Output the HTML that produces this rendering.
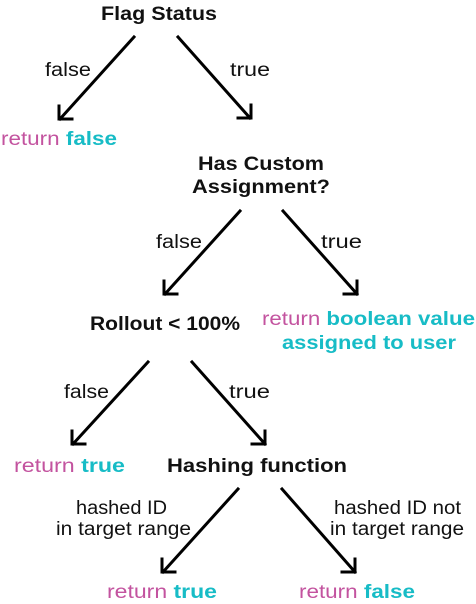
<!DOCTYPE html>
<html><head><style>
html,body{margin:0;padding:0;background:#fff;}
svg{display:block;}
text{font-family:"Liberation Sans",sans-serif;font-size:19px;fill:#111;}
.b{font-weight:bold;}
.m{fill:#c3539f;}
.t{fill:#17bcc6;font-weight:bold;}
</style></head><body>
<svg width="476" height="604" viewBox="0 0 476 604" xmlns="http://www.w3.org/2000/svg">
<g stroke="#000" stroke-width="3" fill="none" stroke-linecap="square">
<path d="M134 37 L60 119 M59 106 L59 119 L72 119"/>
<path d="M178 37 L250 118 M251 105 L251 118 L238 118"/>
<path d="M240 211 L165 294 M164 281 L164 294 L177 294"/>
<path d="M283 211 L357 294 M357 281 L357 294 L344 294"/>
<path d="M148 362 L73 444 M72 431 L72 444 L85 444"/>
<path d="M192 362 L265 444 M265 431 L265 444 L252 444"/>
<path d="M238 489 L163 572 M162 559 L162 572 L175 572"/>
<path d="M282 489 L355 572 M355 559 L355 572 L342 572"/>
</g>
<text class="b" x="101" y="20" textLength="116" lengthAdjust="spacingAndGlyphs">Flag Status</text>
<text x="45" y="76" textLength="46" lengthAdjust="spacingAndGlyphs">false</text>
<text x="230" y="76" textLength="40" lengthAdjust="spacingAndGlyphs">true</text>
<text x="1" y="145" textLength="116" lengthAdjust="spacingAndGlyphs"><tspan class="m">return </tspan><tspan class="t">false</tspan></text>
<text class="b" x="198" y="170" textLength="126" lengthAdjust="spacingAndGlyphs">Has Custom</text>
<text class="b" x="192" y="193" textLength="138" lengthAdjust="spacingAndGlyphs">Assignment?</text>
<text x="156" y="248" textLength="46" lengthAdjust="spacingAndGlyphs">false</text>
<text x="321" y="248" textLength="41" lengthAdjust="spacingAndGlyphs">true</text>
<text class="b" x="90" y="330" textLength="150" lengthAdjust="spacingAndGlyphs">Rollout &lt; 100%</text>
<text x="262" y="325" textLength="213" lengthAdjust="spacingAndGlyphs"><tspan class="m">return </tspan><tspan class="t">boolean value</tspan></text>
<text class="t" x="282" y="349" textLength="174" lengthAdjust="spacingAndGlyphs">assigned to user</text>
<text x="64" y="398" textLength="45" lengthAdjust="spacingAndGlyphs">false</text>
<text x="229" y="398" textLength="41" lengthAdjust="spacingAndGlyphs">true</text>
<text x="14" y="472" textLength="111" lengthAdjust="spacingAndGlyphs"><tspan class="m">return </tspan><tspan class="t">true</tspan></text>
<text class="b" x="167" y="472" textLength="180" lengthAdjust="spacingAndGlyphs">Hashing function</text>
<text x="76" y="514" textLength="91" lengthAdjust="spacingAndGlyphs">hashed ID</text>
<text x="56" y="535" textLength="135" lengthAdjust="spacingAndGlyphs">in target range</text>
<text x="334" y="514" textLength="127" lengthAdjust="spacingAndGlyphs">hashed ID not</text>
<text x="330" y="535" textLength="134" lengthAdjust="spacingAndGlyphs">in target range</text>
<text x="107" y="598" textLength="110" lengthAdjust="spacingAndGlyphs"><tspan class="m">return </tspan><tspan class="t">true</tspan></text>
<text x="299" y="598" textLength="116" lengthAdjust="spacingAndGlyphs"><tspan class="m">return </tspan><tspan class="t">false</tspan></text>
</svg>
</body></html>
